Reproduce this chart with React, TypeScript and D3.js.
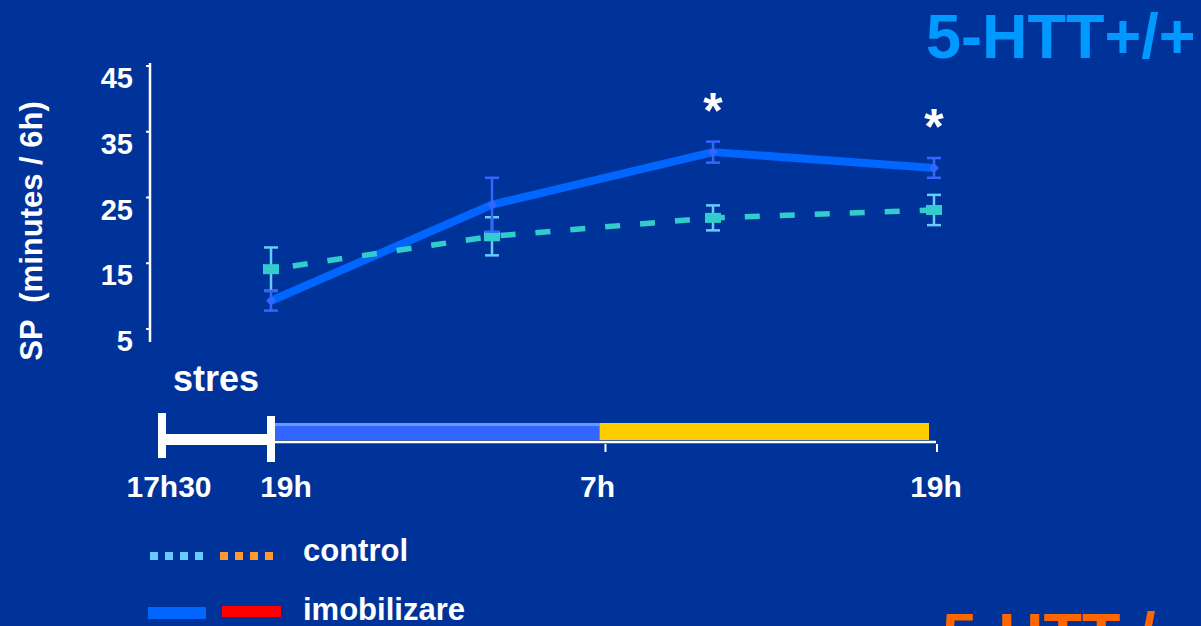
import React from "react";
import * as d3 from "d3";

// Sampling times in hours (19h on day 1 = 19, 19h on day 2 = 43)
const sampleHours = [19, 27, 35, 43];
const controlMeans = [14.1, 19.1, 21.9, 23.1];
const controlErr = [3.3, 2.9, 1.9, 2.3];
const immobMeans = [9.3, 23.9, 31.9, 29.5];
const immobErr = [1.5, 4.1, 1.6, 1.5];
const significant = [false, false, true, true];

const yTicks = [5, 15, 25, 35, 45];
const timeTicks = [17.5, 19, 31, 43];
const timeTickLabels = ["17h30", "19h", "7h", "19h"];
const timeLabelNudge = [7, 15, -5, 2];

const W = 1201;
const H = 626;
const BG = "#003399";
const FONT = "'Liberation Sans', Arial, Helvetica, sans-serif";

export default function App() {
  const x = d3.scaleLinear().domain([17.5, 19, 43]).range([162, 271, 934]);
  const y = d3.scaleLinear().domain([5, 45]).range([329, 66]);

  const line = d3
    .line<number>()
    .x((_, i) => x(sampleHours[i]))
    .y((d) => y(d));

  const capW = 7;

  return (
    <div style={{ position: "fixed", left: 0, top: 0, width: W, height: H }}>
      <svg width={W} height={H} style={{ display: "block" }} fontFamily={FONT} fontWeight="bold">
        <rect x={0} y={0} width={W} height={H} fill={BG} />

        {/* group titles */}
        <text x={926} y={58} fontSize={63} fill="#0099FF">5-HTT+/+</text>
        <text x={942} y={657} fontSize={63} fill="#FF6600">5-HTT-/-</text>

        {/* y axis */}
        <line x1={150} x2={150} y1={y(45) - 3} y2={y(5) + 13} stroke="#fff" strokeWidth={2.5} />
        {yTicks.map((t) => (
          <g key={t}>
            <line x1={146} x2={150} y1={y(t)} y2={y(t)} stroke="#fff" strokeWidth={2} />
            <text x={133} y={y(t) + 22} fontSize={29} fill="#fff" textAnchor="end">
              {t}
            </text>
          </g>
        ))}
        <text
          transform={`translate(42, 231) rotate(-90)`}
          fontSize={31}
          fill="#fff"
          textAnchor="middle"
          xmlSpace="preserve"
        >
          {"SP  (minutes / 6h)"}
        </text>

        {/* series lines */}
        <path d={line(immobMeans) ?? ""} fill="none" stroke="#0066FF" strokeWidth={8} strokeLinejoin="round" />
        <path
          d={line(controlMeans) ?? ""}
          fill="none"
          stroke="#33CCCC"
          strokeWidth={5.5}
          strokeDasharray="15 20"
          strokeDashoffset={-22}
        />

        {/* control error bars and markers */}
        {controlMeans.map((m, i) => {
          const cx = x(sampleHours[i]);
          const y0 = y(m - controlErr[i]);
          const y1 = y(m + controlErr[i]);
          return (
            <g key={"c" + i}>
              <line x1={cx} x2={cx} y1={y0} y2={y1} stroke="#66CCFF" strokeWidth={2.5} />
              <line x1={cx - capW} x2={cx + capW} y1={y0} y2={y0} stroke="#66CCFF" strokeWidth={2.5} />
              <line x1={cx - capW} x2={cx + capW} y1={y1} y2={y1} stroke="#66CCFF" strokeWidth={2.5} />
              <rect x={cx - 8} y={y(m) - 5} width={16} height={10} fill="#33CCCC" />
            </g>
          );
        })}

        {/* immobilization error bars and markers */}
        {immobMeans.map((m, i) => {
          const cx = x(sampleHours[i]);
          const y0 = y(m - immobErr[i]);
          const y1 = y(m + immobErr[i]);
          const cy = y(m);
          return (
            <g key={"m" + i}>
              <line x1={cx} x2={cx} y1={y0} y2={y1} stroke="#3366FF" strokeWidth={2.5} />
              <line x1={cx - capW} x2={cx + capW} y1={y0} y2={y0} stroke="#3366FF" strokeWidth={2.5} />
              <line x1={cx - capW} x2={cx + capW} y1={y1} y2={y1} stroke="#3366FF" strokeWidth={2.5} />
              <path d={`M${cx},${cy - 5}L${cx + 5},${cy}L${cx},${cy + 5}L${cx - 5},${cy}Z`} fill="#3366FF" />
            </g>
          );
        })}

        {/* significance marks */}
        {immobMeans.map((m, i) =>
          significant[i] ? (
            <text
              key={"s" + i}
              x={x(sampleHours[i])}
              y={y(m + immobErr[i]) - 14}
              fontSize={50}
              fill="#fff"
              textAnchor="middle"
            >
              *
            </text>
          ) : null
        )}

        {/* light / dark timeline */}
        <text x={173} y={391} fontSize={36} fill="#fff">stres</text>
        <rect x={x(19) + 2} y={423} width={x(31) - 3 - x(19) - 2} height={17} fill="#3366FF" />
        <rect x={x(19) + 2} y={423} width={x(31) - 3 - x(19) - 2} height={3} fill="#6699FF" />
        <rect x={x(31) - 3} y={423} width={x(43) - 5 - (x(31) - 3)} height={17} fill="#FFCC00" />
        <line x1={x(19)} x2={x(43) + 2} y1={442} y2={442} stroke="#fff" strokeWidth={2.5} />
        <rect x={x(17.5) - 4} y={413} width={8} height={45} fill="#fff" />
        <rect x={x(19) - 4} y={416} width={8} height={46} fill="#fff" />
        <rect x={x(17.5)} y={434} width={x(19) - x(17.5)} height={11} fill="#fff" />
        {timeTicks.slice(2).map((t) => (
          <line key={t} x1={x(t) + 3} x2={x(t) + 3} y1={444} y2={452} stroke="#fff" strokeWidth={2} />
        ))}
        {timeTicks.map((t, i) => (
          <text key={"tl" + i} x={x(t) + timeLabelNudge[i]} y={497} fontSize={30} fill="#fff" textAnchor="middle">
            {timeTickLabels[i]}
          </text>
        ))}

        {/* legend */}
        {[0, 1, 2, 3].map((k) => (
          <rect key={"lc" + k} x={150 + k * 15} y={552} width={8} height={8} fill="#66CCFF" />
        ))}
        {[0, 1, 2, 3].map((k) => (
          <rect key={"lo" + k} x={220 + k * 15} y={552} width={8} height={8} fill="#FF9933" />
        ))}
        <text x={303} y={561} fontSize={31} fill="#fff">control</text>
        <rect x={148} y={607} width={58} height={12} fill="#0066FF" />
        <rect x={222} y={606} width={59} height={11} fill="#FF0000" />
        <text x={303} y={620} fontSize={31} fill="#fff">imobilizare</text>
      </svg>
    </div>
  );
}
